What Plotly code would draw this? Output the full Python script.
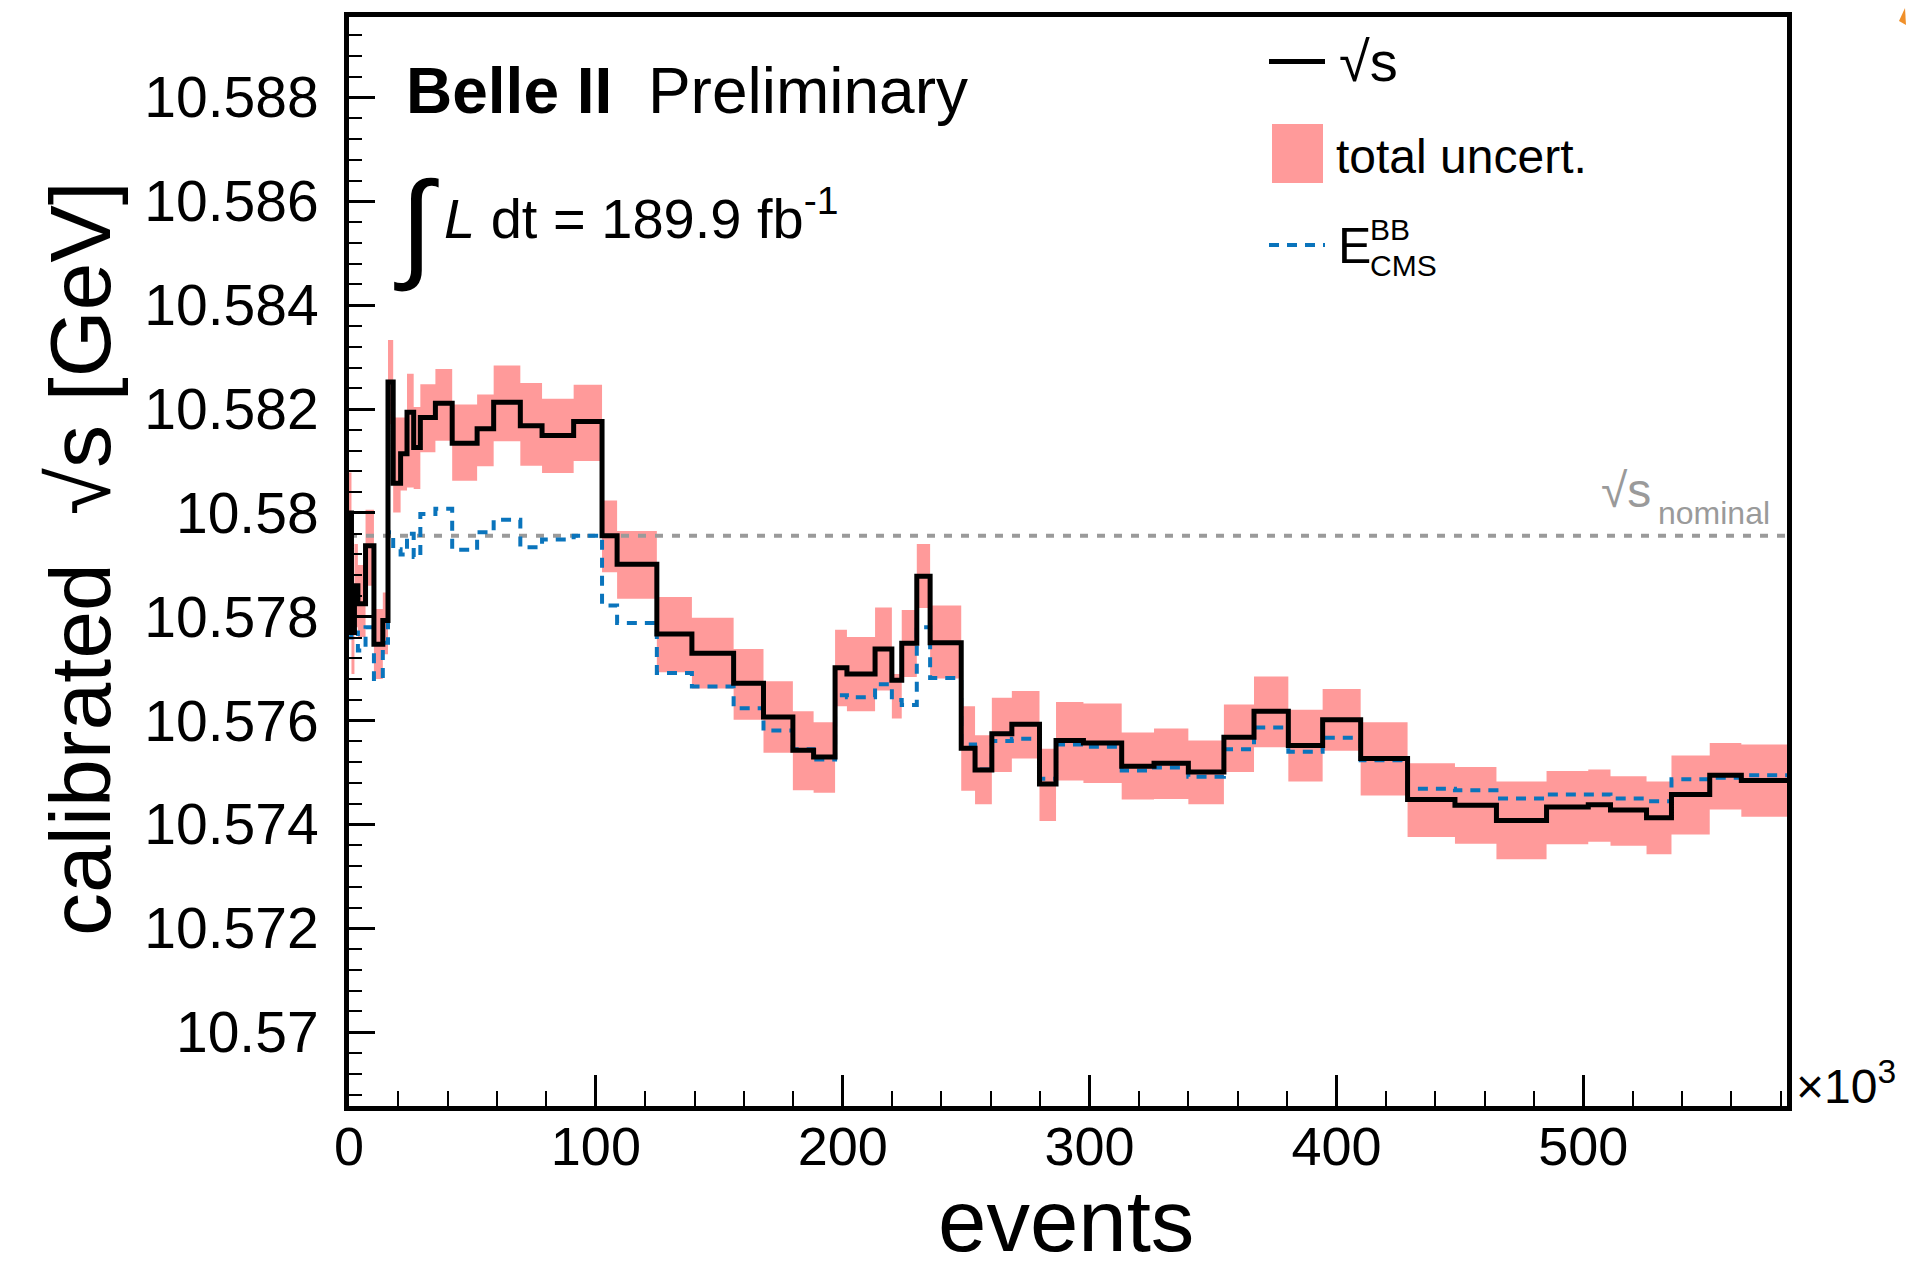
import plotly.graph_objects as go

# ---------------- data (events in units of 10^3) ----------------
bin_edges = [0, 1.0, 2.2, 3.6, 6.7, 10.1, 13.7, 15.8, 17.9, 20.9, 23.5, 26.2, 28.9, 35.0, 41.8,
             51.9, 58.6, 69.4, 78.2, 91.0, 102.5, 108.6, 124.7, 138.9, 155.8, 167.9, 179.8, 188.2,
             196.9, 201.7, 213.1, 219.9, 223.9, 230.0, 235.4, 248.0, 253.6, 260.4, 268.5, 279.7,
             286.4, 297.5, 313.0, 326.1, 340.0, 354.4, 366.6, 380.5, 394.4, 409.8, 428.8, 448.0,
             464.8, 485.1, 502.0, 511.0, 525.6, 535.7, 551.2, 564.0, 582.5]

sqrt_s = [10.5800, 10.5777, 10.5786, 10.57825, 10.57937, 10.57747, 10.57793, 10.58252, 10.58057,
          10.58114, 10.58194, 10.58126, 10.58184, 10.58211, 10.58134, 10.58162, 10.58213, 10.58168,
          10.58149, 10.58176, 10.57956, 10.57901, 10.57767, 10.57730, 10.57672, 10.57607, 10.57543,
          10.57530, 10.57702, 10.57690, 10.57738, 10.57678, 10.57749, 10.57878, 10.57750, 10.57547,
          10.57505, 10.57575, 10.57593, 10.57478, 10.57562, 10.57557, 10.57512, 10.57518, 10.57501,
          10.57568, 10.57618, 10.57552, 10.57602, 10.57527, 10.57448, 10.57437, 10.57408, 10.57434,
          10.57438, 10.57428, 10.57413, 10.57458, 10.57495, 10.57485]

uncert_upper = [10.58078, 10.5785, 10.5794, 10.5790, 10.58006, 10.57815, 10.57847, 10.58333, 10.58184,
                10.58184, 10.58268, 10.58204, 10.58248, 10.58277, 10.58209, 10.58228, 10.58284, 10.58250,
                10.58220, 10.58247, 10.58024, 10.57965, 10.57838, 10.57798, 10.57738, 10.57676, 10.57618,
                10.57597, 10.57775, 10.57761, 10.57818, 10.57690, 10.57813, 10.57940, 10.57822, 10.57628,
                10.57572, 10.57644, 10.57657, 10.57546, 10.57636, 10.57633, 10.57577, 10.57585, 10.57562,
                10.57631, 10.57685, 10.57621, 10.57661, 10.57597, 10.57518, 10.57511, 10.57483, 10.57503,
                10.57506, 10.57493, 10.57483, 10.57533, 10.57557, 10.57554]

uncert_lower = [10.5790, 10.5769, 10.5778, 10.57761, 10.57860, 10.57680, 10.57728, 10.58171, 10.58001,
                10.58043, 10.58049, 10.58046, 10.58117, 10.58139, 10.58062, 10.58090, 10.58138, 10.58091,
                10.58077, 10.58100, 10.57886, 10.57835, 10.57693, 10.57662, 10.57602, 10.57538, 10.57466,
                10.57461, 10.57628, 10.57618, 10.57658, 10.57604, 10.57684, 10.57817, 10.57681, 10.57465,
                10.57439, 10.57501, 10.57527, 10.57407, 10.57485, 10.57480, 10.57448, 10.57449, 10.57439,
                10.57501, 10.57549, 10.57483, 10.57542, 10.57456, 10.57376, 10.57363, 10.57333, 10.57362,
                10.57367, 10.57359, 10.57343, 10.57381, 10.57429, 10.57415]

e_cms_bb = [10.5776, 10.5778, 10.5777, 10.57735, 10.5778, 10.5768, 10.5775, 10.57963, 10.5793,
            10.5792, 10.5796, 10.57915, 10.57998, 10.58008, 10.57929, 10.57963, 10.57987, 10.57934,
            10.57949, 10.57956, 10.57822, 10.57788, 10.57692, 10.57666, 10.57624, 10.57581, 10.57545,
            10.57525, 10.57649, 10.57645, 10.57670, 10.57640, 10.57630, 10.57780, 10.57682, 10.57554,
            10.57506, 10.57561, 10.57565, 10.57488, 10.57554, 10.57550, 10.57504, 10.57510, 10.57492,
            10.57545, 10.57587, 10.57540, 10.57567, 10.57524, 10.57469, 10.57466, 10.57450, 10.57458,
            10.57458, 10.57450, 10.57445, 10.57487, 10.57490, 10.57495]

sqrt_s_nominal = 10.57956

x_tick_vals = [0, 100, 200, 300, 400, 500]
x_tick_text = ["0", "100", "200", "300", "400", "500"]
y_tick_vals = [10.570, 10.572, 10.574, 10.576, 10.578, 10.580, 10.582, 10.584, 10.586, 10.588]
y_tick_text = ["10.57", "10.572", "10.574", "10.576", "10.578", "10.58", "10.582", "10.584", "10.586", "10.588"]

x_range = [0, 582.5]
y_range = [10.56858, 10.58955]

# ---------------- styling ----------------
W, H = 1906, 1263
ML, MR, MT, MB = 349, 119, 17, 157
PW, PH = W - ML - MR, H - MT - MB
FONT = "Liberation Sans, Arial, Helvetica, sans-serif"
PINK = "#ff9a9a"
BLUE = "#0a74bc"
GRAY = "#9a9a9a"


def px(xp):
    return (xp - ML) / PW


def py(yp):
    return (H - MB - yp) / PH


def step(v):
    return list(v) + [v[-1]]


fig = go.Figure()

# uncertainty band
fig.add_trace(go.Scatter(x=bin_edges, y=step(uncert_lower), mode="lines", line_shape="hv",
                         line=dict(width=0, color=PINK), hoverinfo="skip", showlegend=False))
fig.add_trace(go.Scatter(x=bin_edges, y=step(uncert_upper), mode="lines", line_shape="hv",
                         line=dict(width=0, color=PINK), fill="tonexty", fillcolor=PINK,
                         name="total uncert.", showlegend=False))
# nominal line
fig.add_trace(go.Scatter(x=[x_range[0], x_range[1]], y=[sqrt_s_nominal, sqrt_s_nominal], mode="lines",
                         line=dict(color=GRAY, width=4, dash="8px,9px"), showlegend=False))
# E_CMS^BB
fig.add_trace(go.Scatter(x=bin_edges, y=step(e_cms_bb), mode="lines", line_shape="hv",
                         line=dict(color=BLUE, width=4, dash="10px,8px"), showlegend=False))
# sqrt(s)
fig.add_trace(go.Scatter(x=bin_edges, y=step(sqrt_s), mode="lines", line_shape="hv",
                         line=dict(color="black", width=5), showlegend=False))

annotations = []


def ann(text, x, y, size, xanchor="left", yanchor="middle", color="black", angle=0):
    annotations.append(dict(text=text, x=px(x), y=py(y), xref="paper", yref="paper",
                            xanchor=xanchor, yanchor=yanchor, showarrow=False, textangle=angle,
                            font=dict(family=FONT, size=size, color=color)))


# titles
ann("events", 1066, 1220, 87, xanchor="center")
ann("calibrated&nbsp;&nbsp;√s [GeV]", 80, 559, 86, xanchor="center", angle=-90)
ann("×10<sup>3</sup>", 1794, 1083, 48)

# headline
ann("<b>Belle II</b>&nbsp;&nbsp;Preliminary", 404, 91, 64)
ann("∫", 392, 225, 120)
ann("<i>L</i> dt = 189.9 fb<sup>-1</sup>", 442, 214, 56)

# nominal label
ann("√s", 1653, 490, 48, xanchor="right", color=GRAY)
ann("nominal", 1772, 513, 32, xanchor="right", color=GRAY)

# legend
shapes = [
    dict(type="line", xref="paper", yref="paper", x0=px(1269), x1=px(1325), y0=py(61.5), y1=py(61.5),
         line=dict(color="black", width=5)),
    dict(type="rect", xref="paper", yref="paper", x0=px(1272), x1=px(1323), y0=py(183), y1=py(124),
         fillcolor=PINK, line=dict(width=0)),
    dict(type="line", xref="paper", yref="paper", x0=px(1269), x1=px(1325), y0=py(245), y1=py(245),
         line=dict(color=BLUE, width=4, dash="10px,8px")),
    dict(type="path", xref="paper", yref="paper",
         path=f"M {px(1905)},{py(8)} L {px(1899)},{py(21)} L {px(1906)},{py(25)} Z",
         fillcolor="#f0902a", line=dict(width=0)),
]
ann("√s", 1337, 62, 56)
ann("total uncert.", 1334, 156, 48)
ann("E", 1336, 246, 50)
ann("BB", 1368, 230, 30)
ann("CMS", 1368, 265, 30)

fig.update_layout(
    width=W, height=H, margin=dict(l=ML, r=MR, t=MT, b=MB, pad=0),
    paper_bgcolor="white", plot_bgcolor="white",
    annotations=annotations, shapes=shapes,
    font=dict(family=FONT, color="black"),
    xaxis=dict(range=x_range, showgrid=False, zeroline=False, showline=True, linecolor="black",
               linewidth=5, mirror=True, ticks="inside", ticklen=31, tickwidth=2.5, tickcolor="black",
               tickvals=x_tick_vals, ticktext=x_tick_text, tickfont=dict(family=FONT, size=54),
               ticklabelstandoff=-11,
               minor=dict(ticks="inside", ticklen=15, tickwidth=2, tickcolor="black", dtick=20, tick0=0,
                          showgrid=False)),
    yaxis=dict(range=y_range, showgrid=False, zeroline=False, showline=True, linecolor="black",
               linewidth=5, mirror=True, ticks="inside", ticklen=26, tickwidth=2.5, tickcolor="black",
               tickvals=y_tick_vals, ticktext=y_tick_text, tickfont=dict(family=FONT, size=57),
               ticklabelstandoff=14,
               minor=dict(ticks="inside", ticklen=13, tickwidth=2, tickcolor="black", dtick=0.0004,
                          tick0=10.57, showgrid=False)),
)

fig.write_html("out.html")
